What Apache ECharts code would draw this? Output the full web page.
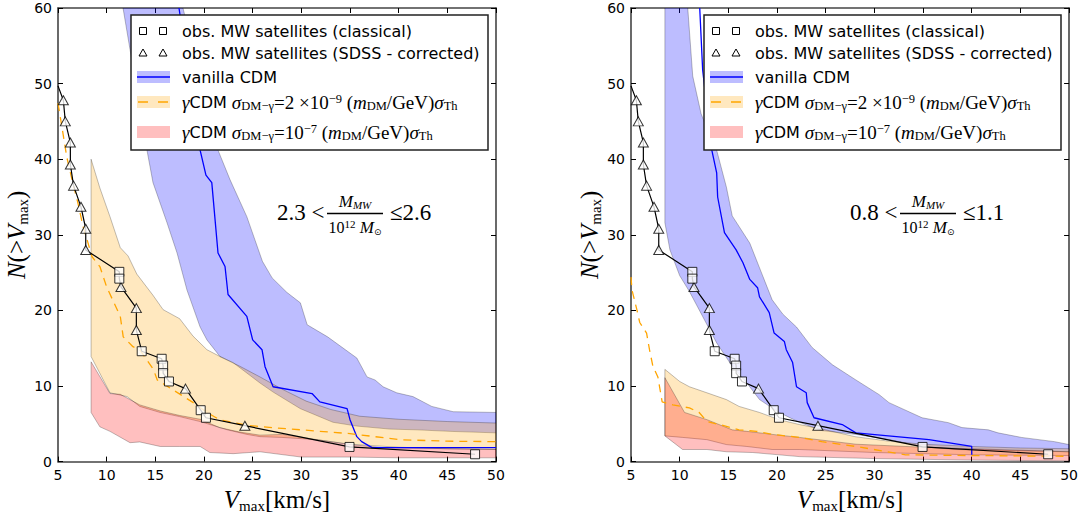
<!DOCTYPE html>
<html><head><meta charset="utf-8">
<script src="https://cdn.jsdelivr.net/npm/echarts@6/dist/echarts.min.js"></script>
<style>html,body{margin:0;padding:0;background:#fff}#c{width:1081px;height:518px}</style>
</head><body><div id="c"></div>
<script>
// ---------- tick labels ----------
const xTicks = [5,10,15,20,25,30,35,40,45,50];
const yTicks = [0,10,20,30,40,50,60];

// ---------- observations (same in both panels) ----------
const obsStart = [[5.0,49.7]];
const obsClassical = [[11.3,25.1],[11.3,24.2],[13.6,14.6],[15.65,13.6],[15.8,12.7],[15.8,11.7],[16.4,10.6],[19.66,6.8],[20.2,5.8],[34.95,1.94],[47.85,0.97]];
const obsSDSS = [[5.55,47.8],[5.75,45.0],[6.27,42.2],[6.27,39.3],[6.6,36.5],[7.36,33.7],[7.85,30.8],[7.85,28.0],[11.47,23.1],[13.05,20.3],[13.05,17.4],[18.1,9.65],[24.2,4.75]];

// ---------- left panel: 2.3 < M/1e12 <= 2.6 ----------
const L_cdmLine = [[17.43,60],[19.6,41.2],[20.2,37.9],[20.8,36.9],[21.44,27.6],[22.16,25.8],[22.47,22.1],[24.4,19.2],[25.0,16.1],[25.96,14.8],[26.27,12.55],[27.1,9.9],[31.1,9.0],[31.9,7.9],[34.7,7.0],[35.0,5.55],[35.7,3.3],[36.2,2.64],[37.26,1.85],[50,1.85]];
const L_cdmUpper = [[17.84,60],[21.44,41.2],[22.67,37.3],[24.4,32.4],[26.0,26.5],[27.0,24.3],[28.5,22.4],[29.9,21.0],[30.6,18.1],[32.7,16.5],[35.7,13.7],[36.75,11.2],[37.57,10.8],[38.4,9.9],[39.8,9.1],[41.47,8.6],[43.4,7.3],[45.6,6.6],[50,6.5]];
const L_cdmLower = [[11.68,60],[14.14,41.2],[14.76,36.9],[16.2,31.6],[17.23,27.6],[18.25,22.7],[19.6,17.8],[20.3,16.1],[21.64,13.9],[22.98,13.1],[25.75,10.4],[27.1,9.2],[29.9,7.0],[33.25,5.2],[35.7,4.7],[39.1,4.3],[41.9,4.2],[45.3,4.0],[50,3.8]];
const L_g9Line = [[5,47.4],[5.4,44.3],[5.9,40.3],[6.44,37.3],[7.05,34.2],[7.57,31.1],[8,29.3],[8.5,27.1],[9.3,25.8],[10.0,23.1],[11.4,19.2],[11.7,16.5],[12.7,15.2],[13.4,14.8],[14.8,12.2],[15.2,10.8],[16.8,9.5],[18.9,7.8],[20.3,6.5],[21.6,5.55],[24.4,4.8],[27,4.5],[30,4.2],[35,3.7],[40.1,2.9],[45,2.7],[50,2.64]];
const L_g9Upper = [[8.4,40.0],[9.3,36.2],[10.34,32.4],[11.4,28.3],[12.2,27.2],[13.1,24.8],[14.76,22.0],[15.8,20.1],[17.5,18.9],[18.87,16.6],[20.3,14.8],[21.64,13.9],[23.7,12.6],[25.75,11.2],[28,9.6],[30.5,8.0],[33,6.9],[36,6.0],[40,5.6],[45,5.3],[50,5.1]];
const L_g9Lower = [[8.4,13.9],[10.34,9.1],[12.1,8.6],[13.4,7.3],[15.5,6.5],[17.5,5.95],[19.6,5.3],[22.4,4.2],[24.4,3.6],[25.75,3.3],[28,3.2],[31.6,2.9],[35,2.3],[40,1.9],[45,1.7],[50,1.6]];
const L_g7Upper = [[8.4,13.2],[10.34,9.0],[11.4,8.9],[13.4,7.5],[15.5,6.7],[17.5,6.1],[19.6,5.6],[21.6,4.5],[23.7,3.9],[25.75,3.5],[28.1,3.6],[31.6,2.9],[35,2.25],[38.4,1.85],[50,1.6]];
const L_g7Lower = [[8.4,6.5],[9.3,4.6],[10.34,4.0],[12.4,2.5],[13.4,2.6],[15.5,2.0],[17.5,2.0],[19.6,2.0],[20.6,1.2],[23.0,1.05],[25.75,1.3],[30,0.6],[35,0.6],[40,0.5],[50,0.5]];

// ---------- right panel: 0.8 < M/1e12 <= 1.1 ----------
const R_cdmLine = [[12.06,60],[12.36,51.8],[13.3,41.2],[13.8,38.2],[13.9,35.0],[14.6,30.3],[15.8,28.0],[16.5,26.3],[17.2,24.1],[18.0,23.0],[18.2,21.8],[19.2,19.7],[19.7,17.0],[20.75,15.9],[20.95,14.8],[21.6,13.1],[22.0,9.9],[23.0,9.1],[23.1,7.8],[23.8,5.8],[26.7,4.9],[28.1,3.8],[35.6,2.9],[40.0,2.0],[40.0,0.9]];
const R_cdmUpper = [[8.48,70],[10.83,60],[11.34,51],[12.2,46],[13.0,43.5],[13.8,41.2],[14.8,36.3],[15.4,32.5],[17.2,28.9],[19.5,21.4],[20.6,19.5],[22.0,17.8],[23.6,15.1],[25.7,12.8],[28.1,10.8],[30.5,8.85],[31.5,7.8],[34.9,5.8],[37.6,5.15],[39.0,4.5],[41.7,4.2],[42.7,3.8],[45.1,3.2],[48.5,2.64],[50,2.25]];
const R_cdmLower = [[8.48,70],[8.48,31.6],[9.0,28.0],[10.0,24.6],[11.0,22.5],[12.36,19.2],[13.8,15.7],[15.4,12.6],[16.9,10.4],[18.2,8.2],[20.2,6.5],[22.3,5.2],[24.6,4.1],[28.1,3.6],[31.5,2.9],[34.9,2.0],[38.3,1.6],[50,1.3]];
const R_g9Line = [[5,24.4],[5.1,22.7],[5.6,20.1],[5.9,18.4],[6.6,17.0],[6.9,14.8],[7.25,12.6],[7.76,11.2],[8.2,7.9],[9.3,7.5],[11.0,7.1],[12.0,6.5],[12.8,5.3],[14.1,4.9],[16.1,4.2],[17.9,4.0],[19.5,3.6],[22.3,3.2],[24.6,2.64],[28.1,2.0],[33.2,0.9],[40,0.8],[50,0.7]];
const R_g9Upper = [[8.48,12.2],[10.0,10.6],[11.0,9.9],[12.8,9.1],[14.8,8.2],[16.1,7.3],[18.2,6.5],[20.2,5.55],[22.3,4.9],[25,4.2],[28,3.3],[31.5,2.7],[35,2.3],[40,2.0],[45,1.8],[50,1.7]];
const R_g9Lower = [[8.48,3.4],[10.3,3.2],[12.8,2.9],[14.8,2.25],[16.9,2.0],[19.5,1.6],[22.3,1.6],[30,1.2],[40,0.9],[50,0.8]];
const R_g7Upper = [[8.48,11.1],[10.5,6.5],[12.8,5.55],[15.4,4.2],[16.9,4.0],[19.5,3.6],[22.3,3.2],[28.1,2.3],[35,1.9],[50,1.3]];
const R_g7Lower = [[8.48,3.4],[10.3,1.6],[12.8,1.6],[14.8,1.3],[17.5,1.2],[22.3,0.66],[30,0.4],[40,0.2],[50,0.1]];

// ---------- styles ----------
const C_BLUE = 'rgba(0,0,255,0.26)';
const C_ORANGE = 'rgba(255,165,0,0.25)';
const C_RED = 'rgba(255,0,0,0.25)';
const EDGE = 'rgba(0,0,0,0.25)';
const DASH = [8,6];

const obsPath = obsStart.concat(obsClassical, obsSDSS).slice().sort((a,b)=> a[0]-b[0] || b[1]-a[1]);

function bandSeries(gi, upper, lower, fill, z){
  const poly = upper.concat(lower.slice().reverse());
  return {
    type:'custom', xAxisIndex:gi*2, yAxisIndex:gi*2, clip:true, z:z, silent:true,
    data: poly, encode:{x:0, y:1},
    renderItem:function(params, api){
      if (params.dataIndex !== 0) return null;
      const pts = poly.map(p => api.coord(p));
      return {type:'polygon', shape:{points:pts}, style:{fill:fill, stroke:EDGE, lineWidth:1}};
    }
  };
}
function lineSeries(gi, data, color, dash, z, w){
  return {type:'line', xAxisIndex:gi*2, yAxisIndex:gi*2, data:data, showSymbol:false, symbol:'none',
    clip:true, z:z, silent:true, lineStyle:{color:color, width:w||1.3, type:dash||'solid'}};
}
function obsSeries(gi){
  return [
    {type:'line', xAxisIndex:gi*2, yAxisIndex:gi*2, data:obsPath, symbol:'none', clip:true, z:6, silent:true,
      lineStyle:{color:'#000', width:1.2}},
    {type:'scatter', xAxisIndex:gi*2, yAxisIndex:gi*2, data:obsSDSS, symbol:'triangle', symbolSize:[10,9], z:7, silent:true,
      itemStyle:{color:'#fff', borderColor:'#000', borderWidth:1}},
    {type:'scatter', xAxisIndex:gi*2, yAxisIndex:gi*2, data:obsClassical, symbol:'rect', symbolSize:9, z:8, silent:true,
      itemStyle:{color:'#fff', borderColor:'#000', borderWidth:1}}
  ];
}

const AXC = '#444';
const nameRich = {
  v:{fontFamily:'Liberation Serif', fontStyle:'italic', fontSize:25, lineHeight:28, color:'#000'},
  r:{fontFamily:'Liberation Serif', fontSize:25, lineHeight:28, color:'#000'},
  s:{fontFamily:'Liberation Serif', fontSize:15, lineHeight:15, color:'#000', verticalAlign:'bottom'}
};
function xAx(gi, pos){
  const bottom = pos === 'bottom';
  return {type:'value', gridIndex:gi, position:pos, min:5, max:50, interval:5,
    axisLine:{show:true, onZero:false, lineStyle:{color:AXC, width:1.6}},
    axisTick:{show:true, inside:true, length:5, customValues:xTicks, lineStyle:{color:'#000', width:1}},
    axisLabel:{show:bottom, customValues:xTicks, color:'#000', fontSize:14, fontFamily:'DejaVu Sans', margin:6},
    splitLine:{show:false},
    name: bottom ? '{v|V}{s|max}{r|[km/s]}' : '', nameLocation:'middle', nameGap:20,
    nameTextStyle:{rich:nameRich}};
}
function yAx(gi, pos){
  const left = pos === 'left';
  return {type:'value', gridIndex:gi, position:pos, min:0, max:60, interval:10,
    axisLine:{show:true, onZero:false, lineStyle:{color:AXC, width:1.6}},
    axisTick:{show:true, inside:true, length:5, customValues:yTicks, lineStyle:{color:'#000', width:1}},
    axisLabel:{show:left, customValues:yTicks, color:'#000', fontSize:14, fontFamily:'DejaVu Sans', margin:6},
    splitLine:{show:false},
    name: left ? '{v|N}{r|(>}{v|V}{s|max}{r|)}' : '', nameLocation:'middle', nameGap:26,
    nameTextStyle:{rich:nameRich}};
}

// ---------- legend & annotation (graphic) ----------
const legRich = {
  t:{fontFamily:'DejaVu Sans', fontSize:16, lineHeight:20, fill:'#000'},
  g:{fontFamily:'Liberation Serif', fontStyle:'italic', fontSize:19, lineHeight:20, fill:'#000'},
  mi:{fontFamily:'Liberation Serif', fontStyle:'italic', fontSize:19, lineHeight:20, fill:'#000'},
  mr:{fontFamily:'Liberation Serif', fontSize:19, lineHeight:20, fill:'#000'},
  sb:{fontFamily:'Liberation Serif', fontSize:12.5, lineHeight:12, fill:'#000', verticalAlign:'bottom'},
  sp:{fontFamily:'Liberation Serif', fontSize:12.5, lineHeight:12, fill:'#000', verticalAlign:'top'}
};
const legendLabels = [
  '{t|obs. MW satellites (classical)}',
  '{t|obs. MW satellites (SDSS - corrected)}',
  '{t|vanilla CDM}',
  '{g|γ}{t|CDM }{mi|σ}{sb|DM−γ}{mr|=2 ×10}{sp|−9}{mr| (}{mi|m}{sb|DM}{mr|/GeV)}{mi|σ}{sb|Th}',
  '{g|γ}{t|CDM }{mi|σ}{sb|DM−γ}{mr|=10}{sp|−7}{mr| (}{mi|m}{sb|DM}{mr|/GeV)}{mi|σ}{sb|Th}'
];
const rowsY = [31, 53, 77, 102, 132];

function legend(dx){
  const els = [];
  els.push({type:'rect', z:100, shape:{x:131+dx, y:15, width:357, height:135}, style:{fill:'#fff', stroke:'#222', lineWidth:1.5}});
  const sq = (cx, cy) => ({type:'rect', z:101, shape:{x:cx-3.5, y:cy-3.5, width:7, height:7}, style:{fill:'#fff', stroke:'#000', lineWidth:1}});
  const tri = (cx, cy) => ({type:'polygon', z:101, shape:{points:[[cx,cy-4],[cx+4,cy+3],[cx-4,cy+3]]}, style:{fill:'#fff', stroke:'#000', lineWidth:1}});
  els.push(sq(143+dx, rowsY[0]), sq(163+dx, rowsY[0]));
  els.push(tri(143+dx, rowsY[1]), tri(163+dx, rowsY[1]));
  const patch = (cy, fill) => ({type:'rect', z:101, shape:{x:137+dx, y:cy-6, width:33, height:12}, style:{fill:fill}});
  els.push(patch(rowsY[2], C_BLUE));
  els.push({type:'line', z:102, shape:{x1:137+dx, y1:rowsY[2], x2:170+dx, y2:rowsY[2]}, style:{stroke:'#00f', lineWidth:1.3}});
  els.push(patch(rowsY[3], C_ORANGE));
  els.push({type:'line', z:102, shape:{x1:138+dx, y1:rowsY[3], x2:170+dx, y2:rowsY[3]}, style:{stroke:'#ffa500', lineWidth:1.3, lineDash:[10,10]}});
  els.push(patch(rowsY[4], C_RED));
  legendLabels.forEach((s, i) => {
    els.push({type:'text', z:103, x:182+dx, y:rowsY[i], style:{text:s, rich:legRich, align:'left', verticalAlign:'middle'}});
  });
  return els;
}
const annRich = {
  mi:{fontFamily:'Liberation Serif', fontStyle:'italic', fontSize:17, lineHeight:18, fill:'#000'},
  r:{fontFamily:'Liberation Serif', fontSize:16, lineHeight:18, fill:'#000'},
  sb:{fontFamily:'Liberation Serif', fontStyle:'italic', fontSize:11, lineHeight:11, fill:'#000', verticalAlign:'bottom'},
  sun:{fontFamily:'DejaVu Sans', fontSize:9, lineHeight:9, fill:'#000', verticalAlign:'bottom'},
  sp:{fontFamily:'Liberation Serif', fontSize:11, lineHeight:11, fill:'#000', verticalAlign:'top'}
};
function annotation(dx, lo, hi){
  return [
    {type:'text', z:90, x:277+dx, y:212, style:{text:lo+' <', fontFamily:'Liberation Serif', fontSize:23, fill:'#000', align:'left', verticalAlign:'middle'}},
    {type:'text', z:90, x:355+dx, y:201, style:{text:'{mi|M}{sb|MW}', rich:annRich, align:'center', verticalAlign:'middle'}},
    {type:'line', z:90, shape:{x1:327+dx, y1:213.5, x2:383+dx, y2:213.5}, style:{stroke:'#000', lineWidth:1.3}},
    {type:'text', z:90, x:355+dx, y:227, style:{text:'{r|10}{sp|12}{mi| M}{sun|⊙}', rich:annRich, align:'center', verticalAlign:'middle'}},
    {type:'text', z:90, x:390+dx, y:212, style:{text:'≤'+hi, fontFamily:'Liberation Serif', fontSize:23, fill:'#000', align:'left', verticalAlign:'middle'}}
  ];
}

const option = {
  animation:false,
  backgroundColor:'#fff',
  grid:[
    {left:58, top:8, width:438, height:454, show:false},
    {left:631, top:8, width:440, height:454, show:false}
  ],
  xAxis:[xAx(0,'bottom'), xAx(0,'top'), xAx(1,'bottom'), xAx(1,'top')],
  yAxis:[yAx(0,'left'), yAx(0,'right'), yAx(1,'left'), yAx(1,'right')],
  series:[
    bandSeries(0, L_cdmUpper, L_cdmLower, C_BLUE, 1),
    bandSeries(0, L_g9Upper, L_g9Lower, C_ORANGE, 2),
    bandSeries(0, L_g7Upper, L_g7Lower, C_RED, 3),
    lineSeries(0, L_cdmLine, '#0000ff', 'solid', 4, 1.3),
    lineSeries(0, L_g9Line, '#ffa500', DASH, 5, 1.3),
    ...obsSeries(0),
    bandSeries(1, R_cdmUpper, R_cdmLower, C_BLUE, 1),
    bandSeries(1, R_g9Upper, R_g9Lower, C_ORANGE, 2),
    bandSeries(1, R_g7Upper, R_g7Lower, C_RED, 3),
    lineSeries(1, R_cdmLine, '#0000ff', 'solid', 4, 1.3),
    lineSeries(1, R_g9Line, '#ffa500', DASH, 5, 1.3),
    ...obsSeries(1)
  ],
  graphic:{elements:[].concat(legend(0), legend(573), annotation(0,'2.3','2.6'), annotation(573,'0.8','1.1'))}
};
const chart = echarts.init(document.getElementById('c'), null, {renderer:'svg'});
chart.setOption(option);
</script></body></html>
